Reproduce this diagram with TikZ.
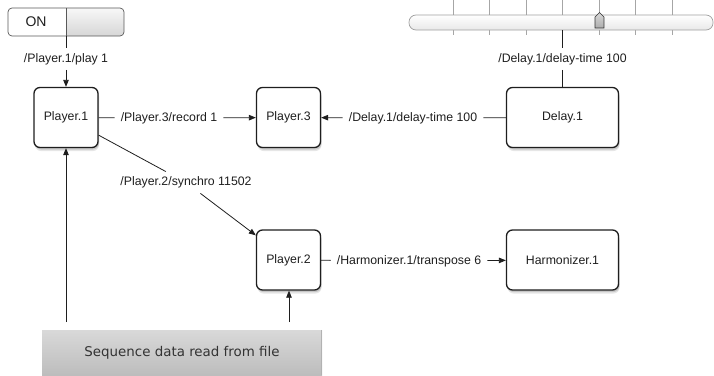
\documentclass[tikz,border=0pt]{standalone}
\usepackage{fontspec}
\setmainfont{Liberation Sans}
\newfontfamily\seqfont{DejaVu Sans}
\usetikzlibrary{arrows.meta,shadows}
\definecolor{ink}{HTML}{1E1E1E}
\begin{document}
\begin{tikzpicture}[x=1pt,y=-1pt,
  every node/.style={text=ink, font=\fontsize{12.3}{14}\selectfont},
  box/.style={draw=ink, line width=1.3pt, rounded corners=6pt, fill=white,
    minimum width=64pt, minimum height=60pt, inner sep=0pt,
    drop shadow={shadow xshift=1pt, shadow yshift=-3.5pt, opacity=0.2},
    drop shadow={shadow xshift=1pt, shadow yshift=-2pt, opacity=0.3}},
  widebox/.style={box, minimum width=112pt},
  lab/.style={inner xsep=6pt, inner ysep=5pt},
  conn/.style={draw=ink, line width=0.8pt},
  arr/.style={conn, -{Triangle[length=7pt,width=5.5pt]}},
  tick/.style={draw=gray!70, line width=0.6pt},
  seqbox/.style={minimum width=280pt, minimum height=45pt, inner sep=0pt,
    top color=gray!30, bottom color=gray!52, font=\seqfont\fontsize{13.4}{16}\selectfont, text=black!80},
]
\useasboundingbox (0,0) rectangle (714,375);

% ON switch
\begin{scope}
  \clip[rounded corners=4pt] (8,8) rectangle (124,36);
  \fill[white] (8,8) rectangle (66,36);
  \shade[top color=gray!6, bottom color=gray!32] (66,8) rectangle (124,36);
\end{scope}
\draw[gray!70!black, line width=0.7pt, rounded corners=4pt] (8,8) rectangle (124,36);
\draw[gray!70!black, line width=0.7pt] (66,8) -- (66,36);
\node (on) at (36,22) {\fontsize{14}{16}\selectfont ON};
\coordinate (swc) at (66,36);

% slider
\foreach \x in {453,489,526,562,599,635,672} {
  \draw[tick] (\x,0) -- (\x,15);
  \draw[tick] (\x,30) -- (\x,35);
}
\shadedraw[top color=white, bottom color=gray!18, draw=gray!75, line width=0.7pt, rounded corners=7pt] (409,15) rectangle (713,30);
\shadedraw[top color=gray!30, bottom color=gray!65, draw=gray!40!black, line width=0.6pt]
  (595,28) -- (604,28) -- (604,17) -- (599.5,12.5) -- (595,17) -- cycle;
\coordinate (slc) at (562.5,30);

% boxes
\node[box] (p1) at (66,117.5) {Player.1};
\node[box] (p3) at (288.5,117.5) {Player.3};
\node[widebox] (d1) at (562.5,117.5) {Delay.1};
\node[box] (p2) at (288.5,260) {Player.2};
\node[widebox] (h1) at (562.5,260) {Harmonizer.1};

% sequence box
\node[seqbox] (seq) at (182,352.5) {Sequence data read from file};
\draw[gray!60, line width=1pt] (seq.north east) ++(-0.5,0) -- ++(0,45);
\coordinate (sq1) at (66,322);
\coordinate (sq2) at (289,322);

% labels
\node[lab] (lplay) at (66,59) {/Player.1/play 1};
\node[lab] (lsl) at (562.5,59) {/Delay.1/delay-time 100};
\node[lab] (lrec) at (169,118) {/Player.3/record 1};
\node[lab] (ldel) at (413,118) {/Delay.1/delay-time 100};
\node[lab] (lsync) at (186,182.5) {/Player.2/synchro 11502};
\node[lab] (lharm) at (409,261) {/Harmonizer.1/transpose 6};

% connectors
\draw[conn] (swc) -- (lplay);
\draw[arr] (lplay) -- (p1);
\draw[conn] (slc) -- (lsl);
\draw[conn] (lsl) -- (d1);
\draw[conn] (p1) -- (lrec);
\draw[arr] (lrec) -- (p3);
\draw[conn] (d1) -- (ldel);
\draw[arr] (ldel) -- (p3);
\draw[conn] (p1) -- (lsync);
\draw[arr] (lsync) -- (p2);
\draw[conn] (p2) -- (lharm);
\draw[arr] (lharm) -- (h1);
\draw[arr] (sq1) -- (p1.south);
\draw[arr] (sq2) -- (sq2 |- p2.south);
\end{tikzpicture}
\end{document}
